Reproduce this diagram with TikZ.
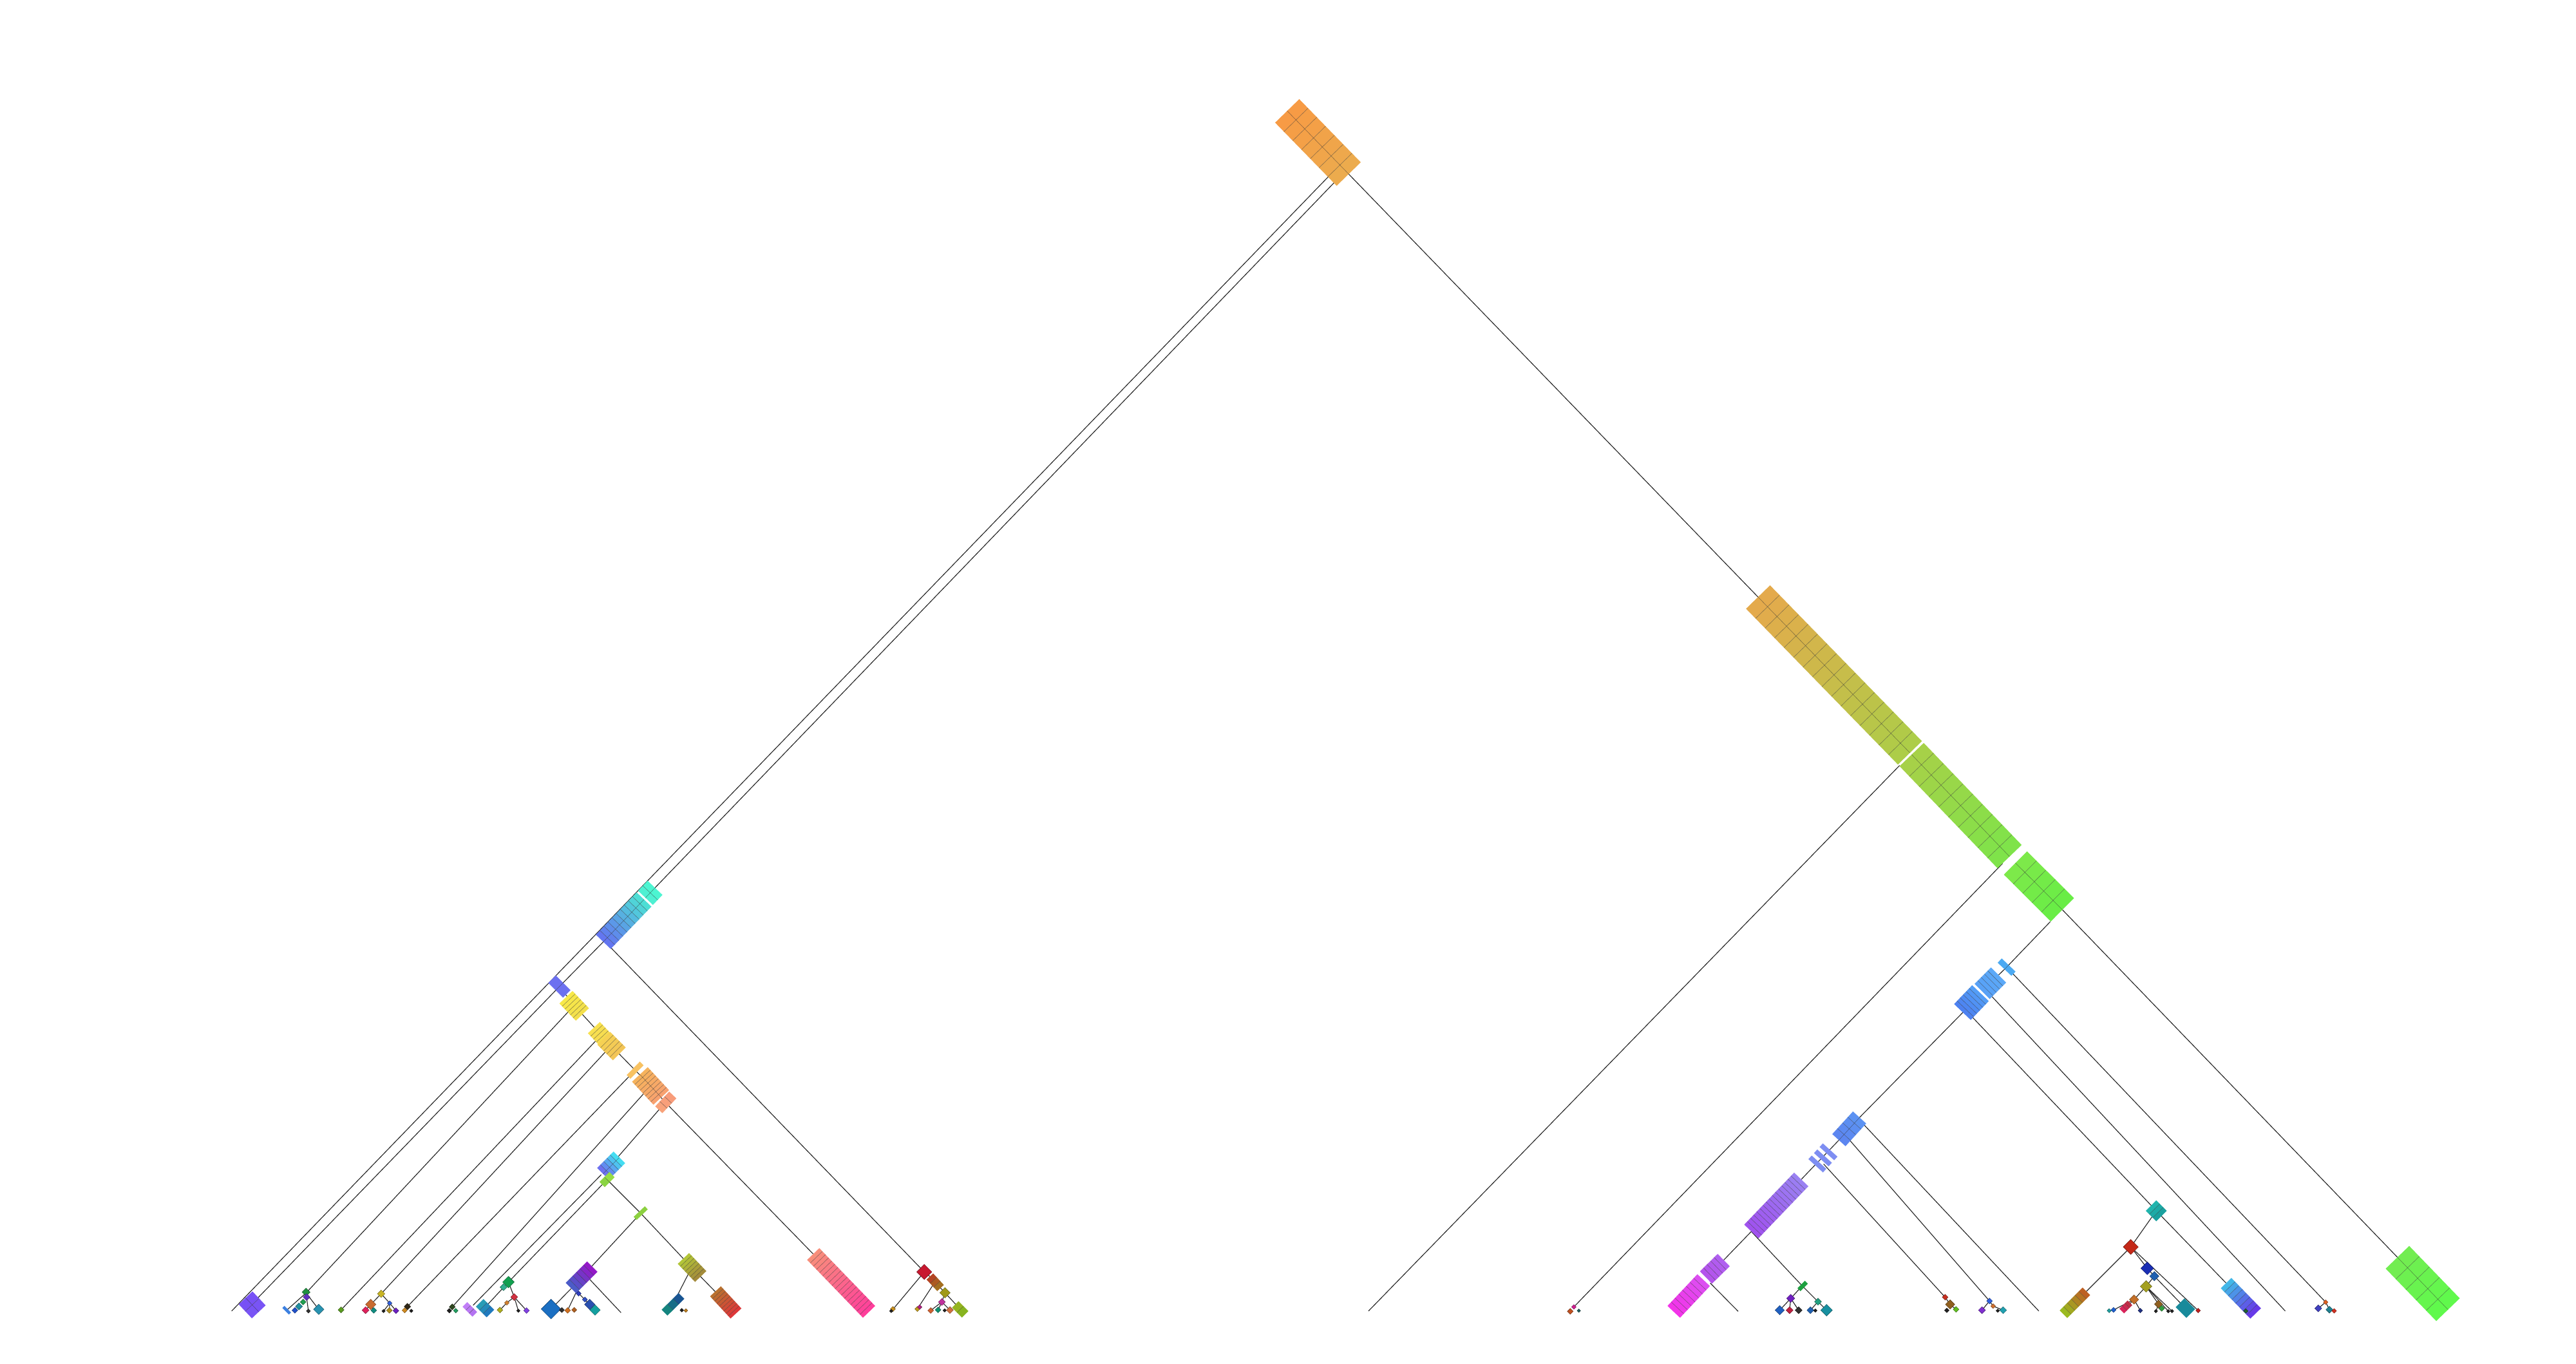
\documentclass[tikz,border=0pt]{standalone}
\usetikzlibrary{calc}
\tikzset{
  edge/.style={draw=black!85, line width=0.32pt},
  gridl/.style={draw=black!80, line width=0.16pt, opacity=0.55}
}
% block: x1 y1 x2 y2 width colA colB ncells ncols
\newcommand{\blk}[9]{%
  \definecolor{bca}{HTML}{#6}\definecolor{bcb}{HTML}{#7}%
  \pgfmathsetmacro{\bdx}{#3-(#1)}%
  \pgfmathsetmacro{\bdy}{#4-(#2)}%
  \pgfmathsetmacro{\bang}{atan2(0-(\bdy),\bdx)}%
  \pgfmathsetmacro{\blen}{veclen(\bdx,\bdy)}%
  \pgfmathsetmacro{\bw}{(#5)/2}%
  \begin{scope}[shift={(#1,#2)},rotate=\bang]
    \foreach \i in {1,...,#8}{%
      \pgfmathsetmacro{\ba}{(\i-1)*\blen/#8}%
      \pgfmathsetmacro{\bb}{\i*\blen/#8}%
      \pgfmathtruncatemacro{\bp}{100*(\i-0.5)/#8}%
      \fill[bcb!\bp!bca] (\ba,-\bw) rectangle (\bb,\bw);
    }
    \ifnum#8>1
    \foreach \i in {2,...,#8}{%
      \pgfmathsetmacro{\ba}{(\i-1)*\blen/#8}%
      \draw[gridl] (\ba,-\bw) -- (\ba,\bw);
    }\fi
    \ifnum#9>1
    \foreach \j in {2,...,#9}{%
      \pgfmathsetmacro{\bc}{-\bw+(\j-1)*(#5)/#9}%
      \draw[gridl] (0,\bc) -- (\blen,\bc);
    }\fi
  \end{scope}}
% diamond: x y size colour
\newcommand{\dia}[4]{%
  \definecolor{dcc}{HTML}{#4}%
  \pgfmathsetmacro{\dh}{#3*0.7071}%
  \fill[dcc, draw=dcc!55!black, line width=0.12pt] (#1,#2) +(0,-\dh) -- +(\dh,0) -- +(0,\dh) -- +(-\dh,0) -- cycle;}
\begin{document}
\begin{tikzpicture}[x=0.02551cm, y=-0.02551cm]
\useasboundingbox (0,0) rectangle (1568,830);
\fill[white] (0,0) rectangle (1568,830);

% ---------------- coordinates: left subtree ----------------
\coordinate (r1) at (811.5,104.5);
\coordinate (r2) at (818.5,104.5);
\coordinate (r3) at (820.5,105.5);
\coordinate (l1e) at (141,798);
\coordinate (c1t) at (398.2,540.9);
\coordinate (c1b) at (367.7,572.8);
\coordinate (c1r) at (372,577);
\coordinate (b1) at (340.5,600.5);
\coordinate (p0) at (156.5,790.5);
\coordinate (rr) at (562.6,774.2);
\coordinate (y1) at (349.5,612);
\coordinate (y2) at (366,630);
\coordinate (y3) at (372,636.5);
\coordinate (o1) at (386.6,651.4);
\coordinate (o2) at (396,661);
\coordinate (o3) at (405,671);
\coordinate (pk) at (495,763.3);
\coordinate (k1) at (186.3,787);
\coordinate (d207) at (207.6,797.3);
\coordinate (k2) at (232,787.5);
\coordinate (k3) at (248,795.3);
\coordinate (k4) at (275.3,795.5);
\coordinate (cb) at (372,709);
\coordinate (cbl) at (366,715);
\coordinate (pbar) at (288,794.5);
\coordinate (g1) at (369.5,718);
\coordinate (k5) at (309.5,780.4);
\coordinate (tl0) at (295.5,795.5);
\coordinate (g2) at (390,738.5);
\coordinate (ps) at (354,777.5);
\coordinate (psb) at (348.5,783.5);
\coordinate (psm) at (357.8,777.5);
\coordinate (psr) at (378,799);
\coordinate (psc) at (362.2,797.4);
\coordinate (psk) at (351,786);
\coordinate (psk2) at (345.5,797.6);
\coordinate (bb) at (335.4,796.8);
\coordinate (ol) at (421,771.5);
\coordinate (ro) at (441.5,792.5);
\coordinate (olc) at (409.5,794);
% K1
\coordinate (k1a) at (174.5,797.5);
\coordinate (k1b) at (194,797);
\coordinate (k1c) at (187.7,798);
% K2
\coordinate (k2o) at (225.7,794);
\coordinate (k2p) at (222.5,797.5);
\coordinate (k2t) at (227.5,797.6);
\coordinate (k2d) at (237.2,793.2);
\coordinate (k2k) at (233.5,798);
\coordinate (k2g) at (237,797.6);
\coordinate (k2u) at (241,797.8);
% K5
\coordinate (k5r) at (313,789.5);
\coordinate (k5p) at (320.5,797.7);
\coordinate (k5o) at (308.5,793);
\coordinate (k5y) at (304.3,797.4);
\coordinate (k5k) at (315.5,797.8);
% Rr cluster
\coordinate (rr1) at (543.5,797);
\coordinate (brs) at (566,777);
\coordinate (brc) at (569,780.5);
\coordinate (bre) at (572.5,784);
\coordinate (br1) at (558.6,796.4);
\coordinate (olv) at (575.2,786.9);
\coordinate (mgl) at (573.3,792.5);
\coordinate (ogb) at (584.4,796.8);
\coordinate (mg1) at (566.5,797.7);
\coordinate (mg2) at (571,797.3);
\coordinate (mg3) at (578.2,797.4);

% ---------------- coordinates: right subtree ----------------
\coordinate (bgs) at (1070.1,363.4);
\coordinate (bspb) at (1156.3,465.9);
\coordinate (lfa) at (833,798);
\coordinate (n1) at (1219,525.5);
\coordinate (lfb) at (958,795.5);
\coordinate (n2) at (1255.4,553.8);
\coordinate (n2l) at (1248,561);
\coordinate (bgt) at (1459.3,765.3);
\coordinate (tb) at (1221.4,588.7);
\coordinate (bpt) at (1216.5,593.5);
\coordinate (bpb) at (1195.5,615.5);
\coordinate (bpu) at (1211,605);
\coordinate (bpl) at (1199.5,618);
\coordinate (blt) at (1131.9,680.2);
\coordinate (ce) at (1415.6,792.6);
\coordinate (be) at (1391,798);
\coordinate (tlk) at (1312.5,737);
\coordinate (bpus) at (1355,781);
\coordinate (rd) at (1297,759);
\coordinate (oss) at (1270,786);
\coordinate (db) at (1307,772);
\coordinate (bs) at (1311.3,776.8);
\coordinate (tk) at (1330,796);
\coordinate (rdot) at (1338,797.7);
\coordinate (ov) at (1306.3,783);
\coordinate (orr) at (1299,791);
\coordinate (pks) at (1295,795);
\coordinate (bdots) at (1286.5,797.3);
\coordinate (bdot2) at (1302.8,797.7);
\coordinate (ovc) at (1313.9,793.8);
\coordinate (ov1) at (1312.3,798.1);
\coordinate (ov2) at (1319.8,798.1);
\coordinate (ov3) at (1322.1,798.1);
\coordinate (ble) at (1119.3,694);
\coordinate (pls) at (1096.4,717.9);
\coordinate (ple) at (1066,749.6);
\coordinate (pms) at (1049.2,767);
\coordinate (pmr) at (1041,781);
\coordinate (pme2) at (1058,798.2);
\coordinate (bla) at (1134,684);
\coordinate (ae) at (1241,798);
\coordinate (blb) at (1125,693);
\coordinate (bce) at (1211,791.9);
\coordinate (tsc) at (1110,708.5);
\coordinate (cce) at (1184,789.6);
\coordinate (gs) at (1097,782.7);
\coordinate (gpd) at (1090,790.3);
\coordinate (gb) at (1083.3,797.5);
\coordinate (gr) at (1089.3,797.5);
\coordinate (gk) at (1094.8,797.5);
\coordinate (gt) at (1106.6,792.3);
\coordinate (gtb) at (1102,797.5);
\coordinate (gtt) at (1111.8,797.5);
\coordinate (bc1) at (1206.4,797.5);
\coordinate (bc2) at (1213.2,795);
\coordinate (bc3) at (1219.3,797.5);
\coordinate (cc1) at (1187,794);
\coordinate (cc2) at (1190.6,797);
\coordinate (ce1) at (1411.1,796.4);
\coordinate (ce2) at (1417.9,797.2);

% ---------------- edges ----------------
\draw[edge] (r1) -- (l1e);
\draw[edge] (r2) -- (c1t);
\draw[edge] (c1b) -- (b1) -- (p0);
\draw[edge] (c1r) -- (rr);
\draw[edge] (b1) -- (y1) -- (y2) -- (y3) -- (o1) -- (o2) -- (o3) -- (pk);
\draw[edge] (y1) -- (k1);
\draw[edge] (y2) -- (d207);
\draw[edge] (y3) -- (k2);
\draw[edge] (o1) -- (k3);
\draw[edge] (o2) -- (k4);
\draw[edge] (o3) -- (cb) -- (g1);
\draw[edge] (cbl) -- (pbar);
\draw[edge] (g1) -- (k5) -- (tl0);
\draw[edge] (g1) -- (g2) -- (ol) -- (ro);
\draw[edge] (g2) -- (ps) -- (psb) -- (bb);
\draw[edge] (psm) -- (psr);
\draw[edge] (psb) -- (psc);
\draw[edge] (psk) -- (psk2);
\draw[edge] (ol) -- (olc);
\draw[edge] (k1) -- (k1a);
\draw[edge] (k1) -- (k1b);
\draw[edge] (k1) -- (k1c);
\draw[edge] (k2) -- (k2o) -- (k2p);
\draw[edge] (k2o) -- (k2t);
\draw[edge] (k2) -- (k2d) -- (k2u);
\draw[edge] (k2d) -- (k2k);
\draw[edge] (k2d) -- (k2g);
\draw[edge] (k5) -- (k5r) -- (k5p);
\draw[edge] (k5r) -- (k5o) -- (k5y);
\draw[edge] (k5r) -- (k5k);
\draw[edge] (rr) -- (rr1);
\draw[edge] (rr) -- (brs);
\draw[edge] (brc) -- (br1);
\draw[edge] (bre) -- (olv) -- (ogb);
\draw[edge] (olv) -- (mgl) -- (mg1);
\draw[edge] (mgl) -- (mg2);
\draw[edge] (mgl) -- (mg3);

\draw[edge] (r3) -- (bgs);
\draw[edge] (bspb) -- (lfa);
\draw[edge] (n1) -- (lfb);
\draw[edge] (n2) -- (bgt);
\draw[edge] (n2l) -- (tb) -- (bpt);
\draw[edge] (bpb) -- (blt);
\draw[edge] (tb) -- (ce);
\draw[edge] (bpu) -- (be);
\draw[edge] (bpl) -- (tlk) -- (bpus);
\draw[edge] (tlk) -- (rd) -- (oss);
\draw[edge] (rd) -- (db) -- (bs) -- (tk);
\draw[edge] (rd) -- (rdot);
\draw[edge] (bs) -- (ov) -- (orr) -- (pks);
\draw[edge] (orr) -- (bdots);
\draw[edge] (orr) -- (bdot2);
\draw[edge] (ov) -- (ovc) -- (ov1);
\draw[edge] (ov) -- (ov2);
\draw[edge] (ov) -- (ov3);
\draw[edge] (ble) -- (pls);
\draw[edge] (ple) -- (pms);
\draw[edge] (pmr) -- (pme2);
\draw[edge] (bla) -- (ae);
\draw[edge] (blb) -- (bce);
\draw[edge] (tsc) -- (cce);
\draw[edge] (ple) -- (gs);
\draw[edge] (gs) -- (gpd) -- (gb);
\draw[edge] (gpd) -- (gr);
\draw[edge] (gpd) -- (gk);
\draw[edge] (gs) -- (gt) -- (gtb);
\draw[edge] (gt) -- (gtt);
\draw[edge] (bce) -- (bc1);
\draw[edge] (bce) -- (bc2) -- (bc3);
\draw[edge] (cce) -- (cc1) -- (cc2);
\draw[edge] (ce) -- (ce1);
\draw[edge] (ce) -- (ce2);

% ---------------- blocks ----------------
% root
\blk{783.5}{67.5}{821}{106}{20.5}{F89A44}{EBAC4E}{7}{2}
% left
\blk{398.7}{540.4}{392.9}{546.5}{12.5}{4CF7D0}{4EEED2}{2}{2}
\blk{392}{547.5}{367.2}{573.3}{12.5}{4CE4D4}{6470F2}{10}{2}
\blk{336}{596}{345}{605}{6.5}{6C70F0}{6C70F0}{2}{1}
\blk{149.5}{790}{157.5}{798.5}{11.5}{7650F5}{7A55F5}{2}{2}
\blk{344.5}{607}{354.5}{617.5}{11}{F8EA48}{F2DE4C}{6}{1}
\blk{361.5}{625.5}{370}{634.5}{10}{F8E250}{F5D850}{5}{1}
\blk{367.5}{632}{377}{641.5}{11}{F6D252}{F2C458}{5}{1}
\blk{382.6}{655.5}{390.6}{647.3}{3.2}{F8C262}{F8C262}{1}{1}
\blk{389.5}{654}{402.5}{668}{13}{F6B45C}{F8A070}{8}{2}
\blk{401}{675.5}{409.5}{666.5}{6}{F8A47A}{F89A7A}{3}{1}
\blk{495}{763.3}{529}{798.5}{10.3}{F8907A}{FF3C9C}{18}{1}
\blk{377}{704.5}{367}{714.5}{10}{40EAF2}{7264F0}{5}{2}
\blk{372.5}{715}{366.5}{721}{4.5}{9CE048}{84D040}{2}{1}
\blk{386.6}{741.6}{393.4}{735.2}{2.6}{8CD040}{8CD040}{1}{1}
\blk{416}{766}{426.5}{777}{9.5}{B4CA38}{A2863A}{7}{1}
\blk{435.5}{786}{448}{799.5}{9}{B8742E}{E0343A}{9}{1}
\blk{360.5}{771}{347.5}{784}{9}{9A12C8}{4462C8}{6}{1}
\blk{283}{794}{289}{800}{4}{C482F8}{B070F0}{3}{1}
\blk{292}{793}{298.5}{799.5}{6.5}{2AA4B4}{1E72C0}{3}{1}
\blk{414.8}{788.8}{404.5}{799}{5}{1A4A96}{14907A}{3}{1}
\dia{335.4}{796.8}{8.5}{1B6FC2}
% K1
\dia{186.3}{786.5}{3.5}{209040}
\dia{186.6}{789.5}{3}{6030C0}
\dia{184.5}{792.5}{2.5}{20A050}
\dia{182}{795.2}{3}{2090A0}
\dia{179.5}{797.6}{2.5}{2050C8}
\blk{172.5}{795.5}{176.5}{799.5}{1.8}{3C80E0}{3C80E0}{1}{1}
\dia{187.7}{798}{1.8}{303030}
\dia{194}{797}{4.5}{2892B0}
\dia{207.6}{797.3}{2.6}{5A9C20}
% K2
\dia{232}{787.5}{3.2}{C8B424}
\dia{225.7}{794}{4.5}{C86A30}
\dia{222.5}{797.5}{3}{E0205C}
\dia{227.5}{797.6}{2.5}{108C80}
\dia{237.2}{793.2}{2}{3060E0}
\dia{233.5}{798}{1.5}{202020}
\dia{237}{797.6}{2.5}{B09020}
\dia{241}{797.8}{2.5}{6A20C0}
% K3, K4
\dia{248}{795.3}{2.8}{302818}
\dia{246.3}{797.6}{2.2}{D08A20}
\dia{250.3}{797.9}{1.5}{202020}
\dia{275.3}{795.5}{2.6}{304820}
\dia{273.5}{797.8}{2}{202020}
\dia{277.4}{797.8}{2}{20A060}
% K5
\dia{309.5}{780.4}{5}{12A050}
\dia{306.5}{783.5}{3}{30B090}
\dia{313}{789.5}{3}{D03040}
\dia{320.5}{797.7}{2.5}{8040E0}
\dia{308.5}{793}{2}{D08030}
\dia{304.3}{797.4}{2.5}{B0B020}
\dia{315.5}{797.8}{1.5}{202020}
% PS cluster
\dia{352.2}{787.4}{2.2}{3040C0}
\dia{356}{791}{2.2}{3050C8}
\dia{359}{794}{4.5}{2A50B0}
\dia{362.2}{797.4}{4.5}{14A0A0}
\dia{342}{797.4}{2.2}{303030}
\dia{345.5}{797.6}{2.5}{D07020}
\dia{349.5}{797.3}{2.2}{B06020}
\dia{415}{797.5}{1.6}{202020}
\dia{417.5}{797.7}{1.6}{C08020}
% Rr cluster
\dia{562.6}{774.2}{6.5}{C81830}
\blk{566}{777}{572.5}{784}{5.5}{B83A22}{A07A20}{3}{1}
\dia{575.2}{786.9}{4.5}{A09A18}
\dia{573.3}{792.5}{3}{C0309C}
\blk{581.5}{794}{587.5}{800}{5.5}{9CB420}{80B420}{2}{1}
\dia{543.5}{796.8}{2.2}{C89020}
\dia{542.5}{798}{1.5}{202020}
\dia{558.4}{796.8}{2.2}{C09A20}
\dia{559.8}{795.6}{2}{B02080}
\dia{566.5}{797.7}{2.5}{D06030}
\dia{571}{797.3}{2.5}{109070}
\dia{575}{797.6}{1.5}{202020}
\dia{578.2}{797.4}{3}{D07040}

% right
\blk{1070.1}{363.4}{1163}{458.7}{20.4}{E6A94C}{ABCE48}{16}{2}
\blk{1163.6}{459.3}{1223.2}{521.4}{20.4}{A8D048}{7DE44A}{10}{2}
\blk{1226.8}{525.3}{1255.4}{553.8}{20}{80E84B}{66EE45}{5}{2}
\blk{1459.3}{765.3}{1490.1}{797.2}{19.9}{74EC52}{5EFA4C}{5}{2}
\blk{1217.2}{584.7}{1225.6}{592.7}{3.6}{4CAAF2}{4CAAF2}{2}{1}
\blk{1216.5}{593.5}{1206.5}{603.5}{13}{5CAAF8}{58A0F6}{5}{1}
\blk{1205.5}{604.5}{1194.5}{616}{14}{54A0F6}{4C7EF0}{6}{1}
\blk{1309.3}{733.8}{1315.7}{740.2}{9}{22B8B0}{189C9C}{3}{1}
\blk{1355}{781}{1373}{799.5}{9}{40C0E8}{6A30E8}{8}{1}
\dia{1297}{759}{6.5}{C42818}
\blk{1270}{786}{1256}{800}{6.5}{C05824}{98C420}{6}{1}
\dia{1307}{772}{5.5}{1A2EB4}
\dia{1311.3}{776.8}{4}{2060B0}
\blk{1327}{793}{1333.5}{799.5}{7.5}{10A47E}{2070B8}{1}{1}
\dia{1306.3}{783}{5}{A4A020}
\dia{1299}{791}{4}{C47028}
\blk{1296.5}{793}{1291.5}{798}{4}{B83040}{E02060}{3}{1}
\dia{1338}{797.7}{2}{C02020}
\dia{1286.5}{797.3}{2.2}{2060D0}
\dia{1283.8}{797.8}{1.8}{20A0A0}
\dia{1302.8}{797.7}{2}{203080}
\dia{1313.9}{793.8}{3.5}{906020}
\dia{1315.8}{796.4}{2.5}{30A040}
\dia{1312.3}{798.1}{1.5}{202020}
\dia{1319.8}{798.1}{1.5}{202020}
\dia{1322.1}{798.1}{1.5}{202020}
\dia{1367}{798}{2}{206030}
\blk{1131.9}{680.2}{1119.3}{694}{10.9}{5C94F2}{5C84F0}{4}{2}
\blk{1114}{700}{1112}{702.2}{12}{7E8EF2}{7E8EF2}{1}{1}
\blk{1110.6}{703.7}{1108.6}{705.9}{12}{7E8EF2}{7E8EF2}{1}{1}
\blk{1107.2}{707.4}{1105.2}{709.6}{12}{7E8EF2}{7E8EF2}{1}{1}
\blk{1096.4}{717.9}{1066}{749.6}{12}{9A82F2}{A050EE}{16}{1}
\blk{1049.2}{767}{1038.4}{777.6}{10.5}{B060F0}{B452EC}{5}{1}
\blk{1037}{779.2}{1018.8}{798.5}{10.5}{DC50F2}{F432E8}{8}{1}
\blk{1095}{785}{1099.5}{780.5}{2.6}{1EA040}{1EA040}{1}{1}
\dia{1090}{790.3}{3.5}{7020C0}
\dia{1083.3}{797.5}{4}{2060C0}
\dia{1089.3}{797.5}{3}{C02040}
\dia{1094.8}{797.5}{3}{303030}
\dia{1106.6}{792.3}{3}{20A080}
\dia{1102}{797.5}{3}{2060B0}
\dia{1105}{797.7}{1.5}{202020}
\dia{1111.8}{797.5}{5}{1890A0}
\dia{1211}{791.9}{2.5}{3060E0}
\dia{1206.4}{797.5}{3}{8030D0}
\dia{1213.2}{795}{2}{D07030}
\dia{1219.3}{797.5}{3}{20A0B0}
\dia{1216}{797.8}{1.5}{202020}
\dia{1184}{789.6}{2.5}{C83020}
\dia{1187}{794}{4}{906020}
\dia{1190.6}{797}{2.5}{60C020}
\dia{1185}{797.6}{2}{202020}
\dia{1415.6}{792.6}{2}{E06020}
\dia{1411.1}{796.4}{3}{4040C0}
\dia{1417.9}{797.2}{3}{208090}
\dia{1420.8}{797.9}{2}{D03020}
\dia{958}{795.5}{2}{D02090}
\dia{955.8}{798.2}{2.5}{C05020}
\dia{961}{797.8}{1.5}{206060}
\end{tikzpicture}
\end{document}
